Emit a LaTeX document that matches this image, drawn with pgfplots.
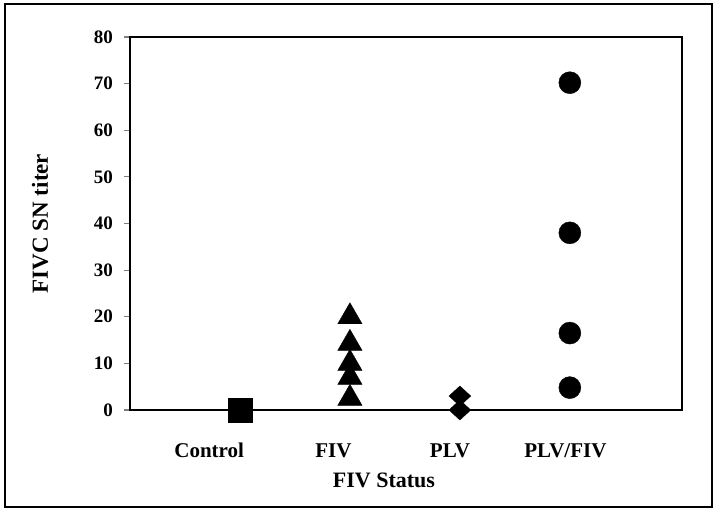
\documentclass[border=0pt]{standalone}
\usepackage{pgfplots}
\pgfplotsset{compat=1.18}
\usepackage{fontspec}
\setmainfont{Liberation Serif}
\begin{document}
\begin{tikzpicture}[x=1pt,y=1pt]
\useasboundingbox (-130,-102) rectangle (587,410);
\draw[line width=1.1pt] (-125,-97) rectangle (582,406);
\begin{axis}[
  at={(0,0)}, anchor=south west,
  scale only axis, width=552pt, height=373pt,
  xmin=0, xmax=5.02, ymin=0, ymax=80,
  ytick={0,10,...,80},
  ytick pos=left,
  xtick={0.72,1.85,2.91,3.96},
  xticklabels={Control,FIV,PLV,PLV/FIV},
  tick align=outside,
  x tick style={draw=none},
  major tick length=6pt,
  y tick style={line width=1.1pt},
  axis line style={line width=1.1pt},
  /pgf/number format/assume math mode=true,
  yticklabel style={font=\fontsize{19}{19}\selectfont\bfseries, anchor=east, inner sep=0pt, xshift=-11pt},
  xticklabel style={font=\fontsize{21}{21}\selectfont\bfseries, anchor=base, inner sep=0pt, yshift=-41pt},
  xlabel={FIV Status},
  ylabel={FIVC SN titer},
  xlabel style={font=\fontsize{22}{22}\selectfont\bfseries, at={(axis description cs:0.46,0)}, anchor=base, inner sep=0pt, yshift=-77pt},
  ylabel style={font=\fontsize{23}{23}\selectfont\bfseries, at={(axis description cs:-0.163,0.5)}, anchor=center, inner sep=0pt},
  clip=false,
]
\addplot[only marks, mark=square*, mark size=12pt, black] coordinates {(1,0)};
\addplot[only marks, mark=triangle*, mark size=14pt, black] coordinates {(2,20) (2,14.3) (2,10) (2,7) (2,2.5)};
\addplot[only marks, mark=diamond*, mark size=10pt, mark options={xscale=1.45}, black] coordinates {(3,3) (3,0)};
\addplot[only marks, mark=*, mark size=11pt, black] coordinates {(4,70.2) (4,38) (4,16.5) (4,4.8)};
\end{axis}
\end{tikzpicture}
\end{document}
